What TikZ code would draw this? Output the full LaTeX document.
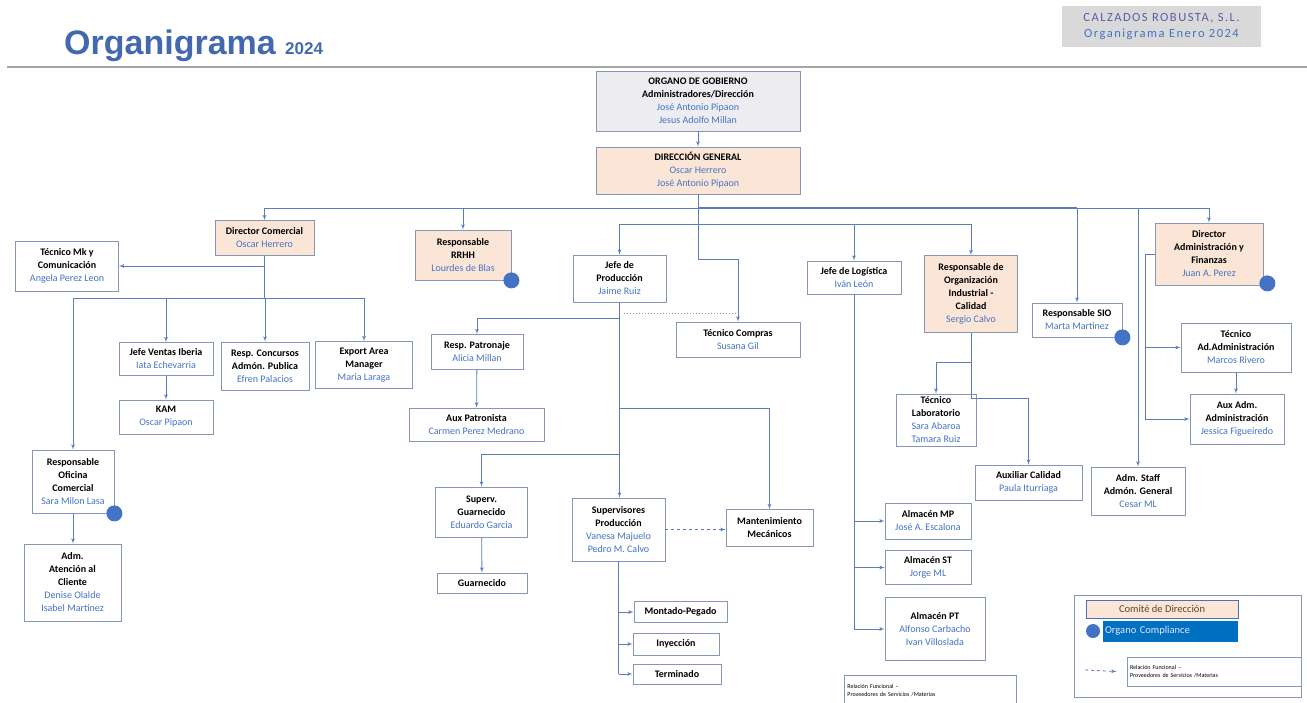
\documentclass[tikz,border=0pt]{standalone}
\usepackage{fontspec}
\setmainfont{Carlito}
\newfontfamily\titlefont{Liberation Sans}
\usetikzlibrary{shapes, arrows}
\definecolor{linea}{RGB}{91,125,185}
\definecolor{borde}{RGB}{133,151,181}
\definecolor{nombre}{RGB}{68,114,196}
\definecolor{comite}{RGB}{251,229,214}
\definecolor{gobierno}{RGB}{237,237,241}
\definecolor{cabecera}{RGB}{217,217,217}
\definecolor{titulo}{RGB}{68,104,176}
\definecolor{compliance}{RGB}{0,112,192}
\definecolor{violeta}{RGB}{92,92,170}
\definecolor{marron}{RGB}{90,70,30}
\tikzstyle{-}    = [draw, color=linea, line width=0.8pt]
\tikzstyle{->}   = [draw, color=linea, line width=0.8pt, -latex']
\tikzstyle{o}    = [circle, fill=nombre, minimum size=16pt, inner sep=0pt]
\tikzstyle{box}  = [draw=borde, fill=white, line width=0.8pt, align=center, inner sep=1pt, font=\fontsize{10}{13}\selectfont\bfseries]
\tikzstyle{dir}  = [box, fill=comite]
\tikzset{sz/.style 2 args={minimum width=#1pt, minimum height=#2pt}}
\newcommand{\nm}[1]{{\mdseries\color{nombre}#1}}

\begin{document}
\begin{tikzpicture}[x=1pt, y=-1pt]
\useasboundingbox (0,0) rectangle (1307,702);

% cabecera
\node [font=\titlefont\bfseries\fontsize{34}{34}\selectfont, text=titulo, anchor=base west, inner sep=0pt] at (64,54) (titulo) {Organigrama};
\node [font=\titlefont\bfseries\fontsize{17}{17}\selectfont, text=titulo, anchor=base west, inner sep=0pt] at (285,54) (anio) {2024};
\draw [black!35, line width=1.2pt] (7,67) -- (1307,67);
\node [fill=cabecera, sz={199}{41}, align=center, font=\addfontfeatures{LetterSpace=12}\fontsize{12.5}{16}\selectfont] at (1161.5,26.5) (empresa) {\color{violeta}CALZADOS ROBUSTA, S.L.\\\color{nombre}Organigrama Enero 2024};

% nodes
\node [box, fill=gobierno, sz={204}{60}] at ( 698  , 101  ) (organo)    {ORGANO DE GOBIERNO\\Administradores/Dirección\\\nm{José Antonio Pipaon}\\\nm{Jesus Adolfo Millan}};
\node [dir, sz={204}{47}]                at ( 698  , 170.5) (dg)        {DIRECCIÓN GENERAL\\\nm{Oscar Herrero}\\\nm{José Antonio Pipaon}};
\node [dir, sz={99}{35}]                 at ( 264.5, 238  ) (dcom)      {Director Comercial\\\nm{Oscar Herrero}};
\node [box, sz={103}{50}]                at (  67  , 266  ) (tecmk)     {Técnico Mk y\\Comunicación\\\nm{Angela Perez Leon}};
\node [box, sz={94}{33}]                 at ( 166  , 359  ) (jventas)   {Jefe Ventas Iberia\\\nm{Iata Echevarria}};
\node [box, sz={94}{34}]                 at ( 166  , 417  ) (kam)       {KAM\\\nm{Oscar Pipaon}};
\node [box, sz={88}{48}]                 at ( 265  , 366  ) (concursos) {Resp. Concursos\\Admón. Publica\\\nm{Efren Palacios}};
\node [box, sz={97}{47}]                 at ( 364  , 365  ) (export)    {Export Area\\Manager\\\nm{Maria Laraga}};
\node [box, sz={82}{63}]                 at (  73  , 481.5) (oficina)   {Responsable\\Oficina\\Comercial\\\nm{Sara Milon Lasa}};
\node [box, sz={97}{77}]                 at (  72.5, 582.5) (atencion)  {Adm.\\Atención al\\Cliente\\\nm{Denise Olalde}\\\nm{Isabel Martinez}};
\node [dir, sz={96}{50}]                 at ( 463  , 255  ) (rrhh)      {Responsable\\RRHH\\\nm{Lourdes de Blas}};
\node [box, sz={93}{47}]                 at ( 619.5, 278.5) (jprod)     {Jefe de\\Producción\\\nm{Jaime Ruiz}};
\node [box, sz={124}{35}]                at ( 738  , 339.5) (tcompras)  {Técnico Compras\\\nm{Susana Gil}};
\node [box, sz={92}{35}]                 at ( 477  , 352  ) (patronaje) {Resp. Patronaje\\\nm{Alicia Millan}};
\node [box, sz={135}{33}]                at ( 476.5, 424.5) (auxpat)    {Aux Patronista\\\nm{Carmen Perez Medrano}};
\node [box, sz={92}{50}]                 at ( 481.5, 512  ) (sguarn)    {Superv.\\Guarnecido\\\nm{Eduardo Garcia}};
\node [box, sz={90}{20}]                 at ( 482  , 583  ) (guarn)     {Guarnecido};
\node [box, sz={93}{63}]                 at ( 618.5, 529.5) (superv)    {Supervisores\\Producción\\\nm{Vanesa Majuelo}\\\nm{Pedro M. Calvo}};
\node [box, sz={87}{37}]                 at ( 769.5, 528  ) (mant)      {Mantenimiento\\Mecánicos};
\node [box, sz={93}{21}]                 at ( 680.5, 612  ) (montado)   {Montado-Pegado};
\node [box, sz={86}{22}]                 at ( 676  , 644  ) (inyeccion) {Inyección};
\node [box, sz={88}{20}]                 at ( 677  , 674  ) (terminado) {Terminado};
\node [box, sz={94}{33}]                 at ( 854  , 277.5) (logistica) {Jefe de Logística\\\nm{Iván León}};
\node [box, sz={86}{36}]                 at ( 928  , 521  ) (almmp)     {Almacén MP\\\nm{José A. Escalona}};
\node [box, sz={86}{34}]                 at ( 928  , 567.5) (almst)     {Almacén ST\\\nm{Jorge ML}};
\node [box, sz={100}{63}]                at ( 935  , 629  ) (almpt)     {Almacén PT\\\nm{Alfonso Carbacho}\\\nm{Ivan Villoslada}};
\node [dir, sz={93}{77}]                 at ( 971  , 294  ) (resporg)   {Responsable de\\Organización\\Industrial -\\Calidad\\\nm{Sergio Calvo}};
\node [box, sz={80}{52}]                 at ( 936  , 420  ) (teclab)    {Técnico\\Laboratorio\\\nm{Sara Abaroa}\\\nm{Tamara Ruiz}};
\node [box, sz={107}{35}]                at (1028.5, 482.5) (auxcal)    {Auxiliar Calidad\\\nm{Paula Iturriaga}};
\node [box, sz={90}{34}]                 at (1077  , 320  ) (sio)       {Responsable SIO\\\nm{Marta Martinez}};
\node [dir, sz={108}{62}]                at (1209  , 254  ) (diradm)    {Director\\Administración y\\Finanzas\\\nm{Juan A. Perez}};
\node [box, sz={110}{49}]                at (1236  , 347.5) (tecadm)    {Técnico\\Ad.Administración\\\nm{Marcos Rivero}};
\node [box, sz={94}{50}]                 at (1237  , 419  ) (auxadm)    {Aux Adm.\\Administración\\\nm{Jessica Figueiredo}};
\node [box, sz={94}{48}]                 at (1138  , 491  ) (staff)     {Adm. Staff\\Admón. General\\\nm{Cesar ML}};

% compliance
\node [o] at (rrhh.south east)                         (crrhh) {};
\node [o] at (oficina.south east)                      (cofic) {};
\node [o] at (sio.south east)                          (csio)  {};
\node [o] at ([xshift=4pt, yshift=2pt]diradm.south east) (cdir) {};

% buses
\coordinate (bus)    at (698, 208);
\coordinate (bus2)   at (698, 224);
\coordinate (buscom) at (264.5, 298);

% edges
\path [->] (organo) -- (dg);
\path [->] (dg.south) -- ++(0,65) -| (tcompras.north);
\path [-]  (bus -| dcom.north) -- (bus -| diradm.north);
\path [-, line width=2pt] (bus) -- (bus -| sio.north);
\path [->] (bus -| dcom.north)   -- (dcom.north);
\path [->] (bus -| rrhh.north)   -- (rrhh.north);
\path [->] (bus -| sio.north)    -- (sio.north);
\path [->] (bus -| staff.north)  -- (staff.north);
\path [->] (bus -| diradm.north) -- (diradm.north);
\path [-]  (bus2 -| jprod.north) -- (bus2 -| resporg.north);
\path [->] (bus2 -| jprod.north)     -- (jprod.north);
\path [->] (bus2 -| logistica.north) -- (logistica.north);
\path [->] (bus2 -| resporg.north)   -- (resporg.north);

% comercial
\path [-]  (dcom.south) -- (buscom);
\path [->] (dcom.south |- tecmk.east) -- (tecmk.east);
\path [-]  (buscom -| oficina.north) -- (buscom -| export.north);
\path [->] (buscom -| oficina.north)   -- (oficina.north);
\path [->] (buscom -| jventas.north)   -- (jventas.north);
\path [->] (buscom -| concursos.north) -- (concursos.north);
\path [->] (buscom -| export.north)    -- (export.north);
\path [->] (jventas) -- (kam);
\path [->] (oficina.south) -- (oficina.south |- atencion.north);

% produccion
\path [->] (jprod.south) -- (jprod.south |- superv.north);
\path [->] (jprod.south) ++(0,16)  -| (patronaje.north);
\path [->] (jprod.south) ++(0,106) -| (mant.north);
\path [->] (jprod.south) ++(0,152) -| (sguarn.north);
\draw [dotted, borde, line width=1pt] ([xshift=4pt]jprod.south |- 0,313) -- (tcompras.north |- 0,313);
\path [->] (patronaje) -- (auxpat);
\path [->] (sguarn) -- (guarn);
\path [->, dashed] (superv.east) -- (superv.east -| mant.west);
\path [-]  (superv.south) -- (superv.south |- terminado.west);
\path [->] (superv.south |- montado.west)   -- (montado.west);
\path [->] (superv.south |- inyeccion.west) -- (inyeccion.west);
\path [->] (superv.south |- terminado.west) -- (terminado.west);

% logistica
\path [-]  (logistica.south) -- (logistica.south |- almpt.west);
\path [->] (logistica.south |- almmp.west) -- (almmp.west);
\path [->] (logistica.south |- almst.west) -- (almst.west);
\path [->] (logistica.south |- almpt.west) -- (almpt.west);

% calidad
\path [->] (resporg.south) -- ++(0,65) -| (auxcal.north);
\path [->] (resporg.south) ++(0,29) -| (teclab.north);

% administracion
\path [->] (diradm.west) -- ++(-9,0) |- (auxadm.west);
\path [->] (diradm.west) ++(-9,0) |- (tecadm.west);
\path [->] (tecadm.south) -- (tecadm.south |- auxadm.north);

% leyenda
\node [draw=borde, line width=0.8pt, sz={227}{102}] at (1188,646) (leyenda) {};
\node [draw=nombre, fill=comite, sz={152}{18}, inner sep=1pt, font=\fontsize{10.5}{11}\selectfont, text=marron] at (1162,609) (lcomite) {Comité de Dirección};
\node [fill=compliance, sz={135}{21}, text width=131pt, align=left, inner sep=2pt, font=\fontsize{10.5}{11}\selectfont, text=blue!10] at (1170.5,631) (lcompl) {Organo Compliance};
\node [o, minimum size=14pt] at (1093,631) (lcirc) {};
\node [draw=borde, line width=0.8pt, sz={174}{29}, text width=168pt, align=left, inner sep=2pt, font=\fontsize{6}{7.5}\selectfont] at (1214,671.5) (lrel) {Relación Funcional --\\Proveedores de Servicios /Materias};
\coordinate (lflecha) at (1085,670);
\path [->, dashed] (lflecha) -- ([xshift=-10pt]lrel.west);
\node [draw=borde, line width=0.8pt, anchor=north west, sz={172}{30}, text width=166pt, align=left, inner sep=3pt, font=\fontsize{6}{7.5}\selectfont] at (844,675) (rel) {Relación Funcional --\\Proveedores de Servicios /Materias};

\end{tikzpicture}
\end{document}
